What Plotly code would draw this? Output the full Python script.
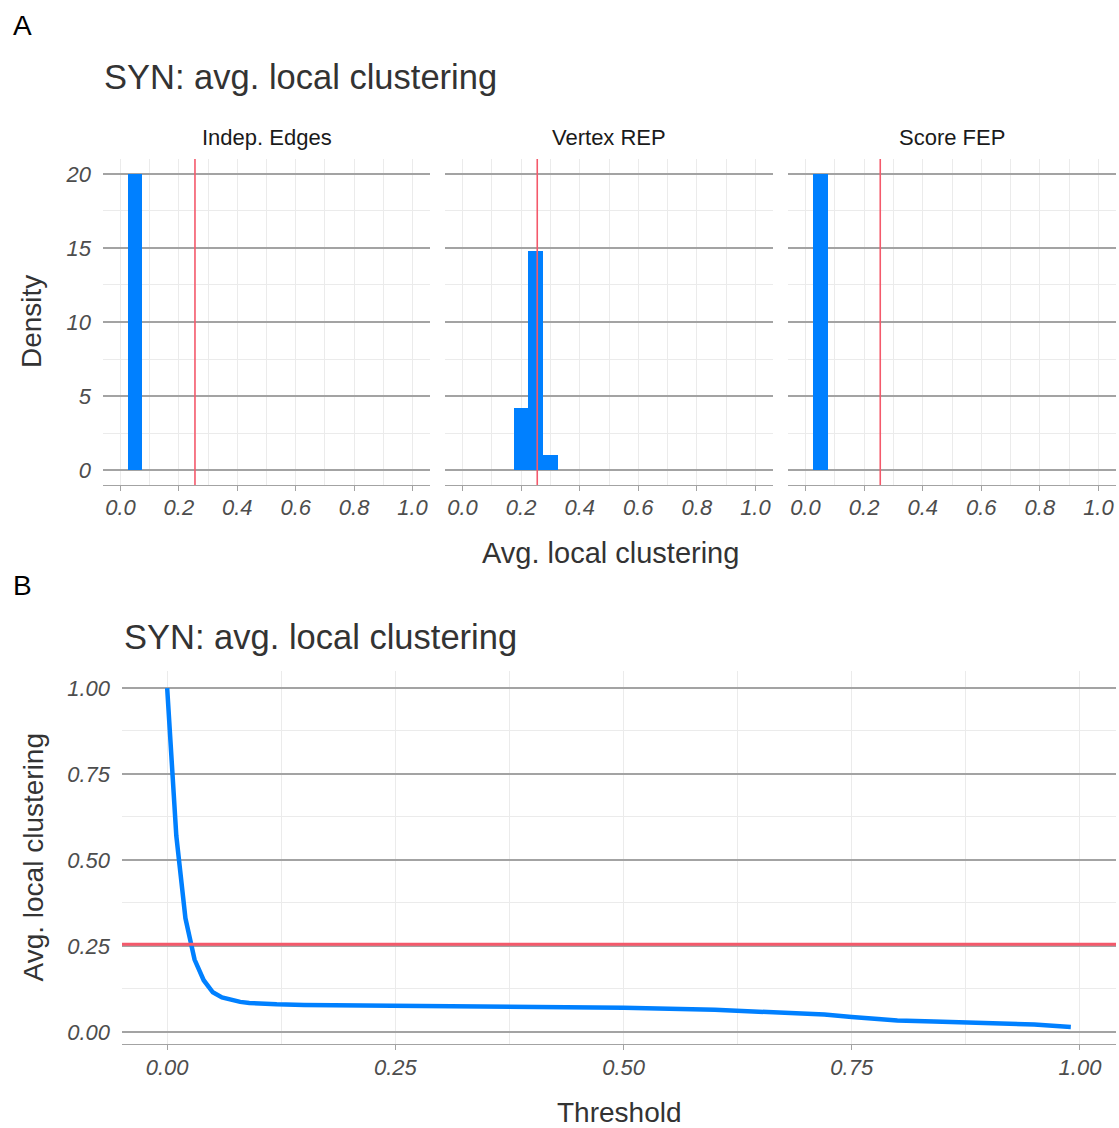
import plotly.graph_objects as go

# ---- data -------------------------------------------------------------
facet_names = ["Indep. Edges", "Vertex REP", "Score FEP"]
bin_width = 0.05

indep_bin_centers = [0.05]
indep_density = [20.0]

vertex_bin_centers = [0.20, 0.25, 0.30]
vertex_density = [4.2, 14.8, 1.0]

score_bin_centers = [0.05]
score_density = [20.0]

# observed avg. local clustering of the SYN network
observed_clustering = 0.255

threshold = [0.00, 0.01, 0.02, 0.03, 0.04, 0.05, 0.06, 0.07, 0.08, 0.09,
             0.10, 0.12, 0.15, 0.20, 0.25, 0.30, 0.36, 0.43, 0.50, 0.60,
             0.68, 0.72, 0.75, 0.78, 0.80, 0.84, 0.90, 0.95, 0.99]
avg_clustering = [1.00, 0.57, 0.33, 0.21, 0.15, 0.115, 0.100, 0.092, 0.087, 0.084,
                  0.082, 0.080, 0.078, 0.077, 0.0765, 0.076, 0.0748, 0.073, 0.070, 0.064,
                  0.056, 0.050, 0.043, 0.037, 0.033, 0.030, 0.025, 0.021, 0.014]

hist_x_ticks = [0.0, 0.2, 0.4, 0.6, 0.8, 1.0]
hist_y_ticks = [0, 5, 10, 15, 20]
thr_x_ticks = [0.00, 0.25, 0.50, 0.75, 1.00]
thr_y_ticks = [0.00, 0.25, 0.50, 0.75, 1.00]

# ---- styling ----------------------------------------------------------
W, H = 1119, 1128
FONT = "Liberation Sans, Arial, sans-serif"
BLUE = "#0080FF"
RED = "#F4596B"
MAJOR = "#A3A3A3"
MINOR = "#EBEBEB"
TICKTXT = "#4D4D4D"
TITLE = "#333333"


def px_x(p):
    return p / W


def px_y(p):
    return 1 - p / H


fig = go.Figure()

facet_bins = [indep_bin_centers, vertex_bin_centers, score_bin_centers]
facet_dens = [indep_density, vertex_density, score_density]
facet_px = [(103, 430), (445, 773), (788, 1116)]
panelA_top, panelA_bot = 159, 485

for i, (centers, dens) in enumerate(zip(facet_bins, facet_dens)):
    n = "" if i == 0 else str(i + 1)
    fig.add_trace(go.Bar(
        x=centers, y=dens, width=[bin_width] * len(centers),
        marker=dict(color=BLUE, line=dict(width=0)),
        xaxis="x" + n, yaxis="y" + n, showlegend=False,
    ))
    left, right = facet_px[i]
    fig.update_layout(**{
        "xaxis" + n: dict(
            domain=[px_x(left), px_x(right)], range=[-0.06, 1.06],
            anchor="y" + n, tickvals=hist_x_ticks, tickformat=".1f",
            showgrid=False, zeroline=False,
            showline=True, linecolor=MAJOR, linewidth=1.2,
            ticks="outside", ticklen=5, tickcolor=MAJOR, tickwidth=1.2,
            ticklabelstandoff=-3,
            tickfont=dict(family=FONT, size=22, color=TICKTXT, style="italic"),
            minor=dict(dtick=0.1, tick0=0, showgrid=True, gridcolor=MINOR, gridwidth=1),
        ),
        "yaxis" + n: dict(
            domain=[px_y(panelA_bot), px_y(panelA_top)], range=[-1, 21],
            anchor="x" + n, tickvals=hist_y_ticks, showticklabels=(i == 0),
            showgrid=True, gridcolor=MAJOR, gridwidth=1.5, zeroline=False,
            ticks="", ticklabelstandoff=11,
            tickfont=dict(family=FONT, size=22, color=TICKTXT, style="italic"),
            minor=dict(dtick=2.5, tick0=0, showgrid=True, gridcolor=MINOR, gridwidth=1),
        ),
    })
    fig.add_shape(type="line", xref="x" + n, yref="y" + n + " domain",
                  x0=observed_clustering, x1=observed_clustering, y0=0, y1=1,
                  line=dict(color=RED, width=1.6), layer="above")
    fig.add_annotation(text=facet_names[i], xref="paper", yref="paper",
                       x=px_x((left + right) / 2), y=px_y(137),
                       xanchor="center", yanchor="middle", showarrow=False,
                       font=dict(family=FONT, size=22, color="#1A1A1A"))

# ---- panel B: clustering vs threshold ---------------------------------
panelB_left, panelB_right, panelB_top, panelB_bot = 122, 1116, 671, 1044
fig.add_trace(go.Scatter(
    x=threshold, y=avg_clustering, mode="lines",
    line=dict(color=BLUE, width=4.5),
    xaxis="x4", yaxis="y4", showlegend=False,
))
fig.update_layout(
    xaxis4=dict(
        domain=[px_x(panelB_left), px_x(panelB_right)], range=[-0.0495, 1.0395],
        anchor="y4", tickvals=thr_x_ticks, tickformat=".2f",
        showgrid=False, zeroline=False,
        showline=True, linecolor=MAJOR, linewidth=1.2,
        ticks="outside", ticklen=5, tickcolor=MAJOR, tickwidth=1.2,
        ticklabelstandoff=-2,
        tickfont=dict(family=FONT, size=22, color=TICKTXT, style="italic"),
        minor=dict(dtick=0.125, tick0=0, showgrid=True, gridcolor=MINOR, gridwidth=1),
    ),
    yaxis4=dict(
        domain=[px_y(panelB_bot), px_y(panelB_top)], range=[-0.0355, 1.0495],
        anchor="x4", tickvals=thr_y_ticks, tickformat=".2f",
        showgrid=True, gridcolor=MAJOR, gridwidth=1.5, zeroline=False,
        ticks="", ticklabelstandoff=11,
        tickfont=dict(family=FONT, size=22, color=TICKTXT, style="italic"),
        minor=dict(dtick=0.125, tick0=0, showgrid=True, gridcolor=MINOR, gridwidth=1),
    ),
)
fig.add_shape(type="line", xref="x4 domain", yref="y4",
              x0=0, x1=1, y0=observed_clustering, y1=observed_clustering,
              line=dict(color=RED, width=3), layer="above")

# ---- titles and labels ------------------------------------------------
def label(text, x, y, size, color, xanchor="left", angle=0):
    fig.add_annotation(text=text, xref="paper", yref="paper",
                       x=px_x(x), y=px_y(y), xanchor=xanchor, yanchor="middle",
                       showarrow=False, textangle=angle,
                       font=dict(family=FONT, size=size, color=color))

label("A", 11, 25, 28, "#000000")
label("SYN: avg. local clustering", 102, 77, 34.5, TITLE)
label("Avg. local clustering", 610, 553, 29, TITLE, xanchor="center")
label("Density", 32, (panelA_top + panelA_bot) / 2, 28, TITLE, xanchor="center", angle=-90)

label("B", 11, 585, 28, "#000000")
label("SYN: avg. local clustering", 122, 637, 34.5, TITLE)
label("Threshold", (panelB_left + panelB_right) / 2, 1112, 28, TITLE, xanchor="center")
label("Avg. local clustering", 33, (panelB_top + panelB_bot) / 2, 28, TITLE,
      xanchor="center", angle=-90)

fig.update_layout(
    width=W, height=H, margin=dict(l=0, r=0, t=0, b=0),
    paper_bgcolor="white", plot_bgcolor="white",
    bargap=0, showlegend=False,
    font=dict(family=FONT),
)

fig.write_html("out.html")
